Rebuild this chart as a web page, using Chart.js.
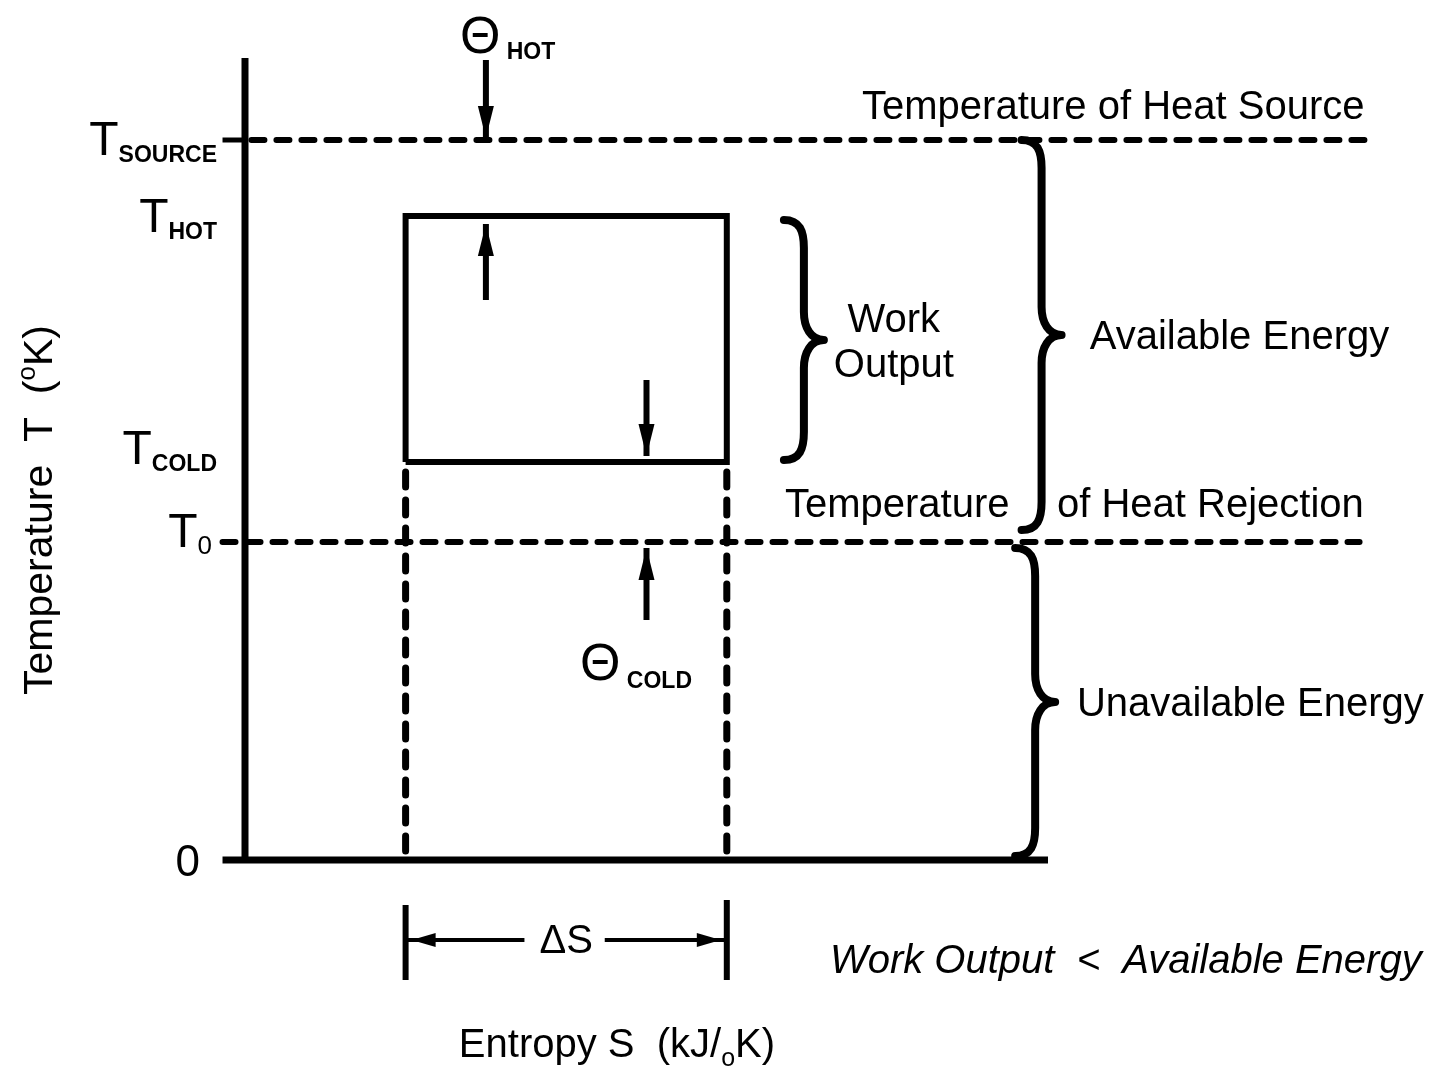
<!DOCTYPE html>
<html>
<head>
<meta charset="utf-8">
<style>
  html, body { margin: 0; padding: 0; background: #fff; }
  #wrap { width: 1437px; height: 1066px; }
</style>
<script src="https://cdn.jsdelivr.net/npm/chart.js@4.4.1/dist/chart.umd.min.js"></script>
</head>
<body>
<div id="wrap"><canvas id="ts" width="1437" height="1066"></canvas></div>
<script>
// --- diagram values (T in K, S in arbitrary entropy units) ---
const levelKeys  = ['SOURCE', 'HOT', 'COLD', '0'];
const levelTemps = [720, 644, 398, 318];      // T_source, T_hot, T_cold, T_0
const cycleS     = [1.0, 2.0];                // S1, S2 of the cycle
const axisS      = [0.5, 3.0];
const axisT      = [0, 800];
const levelLineS = [0.43, 3.99];              // extent of the dashed level lines

// arrows: theta_hot, heat in, heat out, theta_cold
const arrowS    = [1.25, 1.25, 1.75, 1.75];
const arrowFrom = [800, 560, 480, 240];
const arrowTo   = [722, 636, 404, 312];

// braces: work output, available energy, unavailable energy
const braceS     = [2.24, 2.98, 2.96];
const braceTop   = [640, 720, 312];
const braceBot   = [400, 330, 4];
const braceLabel = [['Work', 'Output'], ['Available Energy'], ['Unavailable Energy']];
const braceTextS = [2.52, 3.13, 3.09];

// delta S marker below the axis
const deltaT = [-45, -120, -80];              // bar top, bar bottom, arrow level

const FONT = '"Liberation Sans", Arial, Helvetica, sans-serif';
const BLACK = '#000';

function seg(pts, width, dash) {
  return {
    data: pts, showLine: true, pointRadius: 0, borderColor: BLACK, borderWidth: width,
    borderDash: dash || [], borderCapStyle: dash ? 'round' : 'butt', borderJoinStyle: 'miter',
    clip: false, tension: 0
  };
}

const [S1, S2] = cycleS;
const [tSrc, tHot, tCold, t0] = levelTemps;

const datasets = [
  seg([{x: axisS[0], y: axisT[0] - 2}, {x: axisS[0], y: axisT[1] + 2}], 7),
  seg([{x: levelLineS[0], y: 0}, {x: axisS[1], y: 0}], 7),
  seg([{x: levelLineS[0], y: tSrc}, {x: axisS[0], y: tSrc}], 5),
  seg([{x: axisS[0] + 0.02, y: tSrc}, {x: levelLineS[1] + 0.01, y: tSrc}], 6, [13, 12]),
  seg([{x: levelLineS[0], y: t0}, {x: levelLineS[1] - 0.02, y: t0}], 6, [13, 12]),
  seg([{x: S1, y: tCold}, {x: S2, y: tCold}, {x: S2, y: tHot}, {x: S1, y: tHot}, {x: S1, y: tCold}], 6),
  seg([{x: S1, y: tCold - 10}, {x: S1, y: 3}], 7, [15, 13]),
  seg([{x: S2, y: tCold - 10}, {x: S2, y: 3}], 7, [15, 13]),
  seg([{x: S1, y: deltaT[0]}, {x: S1, y: deltaT[1]}], 6),
  seg([{x: S2, y: deltaT[0] + 5}, {x: S2, y: deltaT[1]}], 6),
  seg([{x: S1, y: deltaT[2]}, {x: S1 + 0.37, y: deltaT[2]}], 4),
  seg([{x: S2 - 0.38, y: deltaT[2]}, {x: S2, y: deltaT[2]}], 4)
];
arrowS.forEach((s, i) => datasets.push(seg([{x: s, y: arrowFrom[i]}, {x: s, y: arrowTo[i]}], 6)));

function head(ctx, tx, ty, dx, dy, len, half) {
  const n = Math.hypot(dx, dy); dx /= n; dy /= n;
  const bx = tx - dx * len, by = ty - dy * len;
  ctx.beginPath();
  ctx.moveTo(tx, ty);
  ctx.lineTo(bx - dy * half, by + dx * half);
  ctx.lineTo(bx + dy * half, by - dx * half);
  ctx.closePath();
  ctx.fill();
}

function brace(ctx, xs, top, bot, w, r) {
  const pm = (top + bot) / 2;
  ctx.beginPath();
  ctx.moveTo(xs - w, top);
  ctx.bezierCurveTo(xs - w * 0.2, top, xs, top + r * 0.4, xs, top + r);
  ctx.lineTo(xs, pm - r);
  ctx.bezierCurveTo(xs, pm - r * 0.45, xs + w * 0.35, pm, xs + w, pm);
  ctx.bezierCurveTo(xs + w * 0.35, pm, xs, pm + r * 0.45, xs, pm + r);
  ctx.lineTo(xs, bot - r);
  ctx.bezierCurveTo(xs, bot - r * 0.4, xs - w * 0.2, bot, xs - w, bot);
  ctx.stroke();
}

// text runs: [text, font, dy] drawn one after another
function runs(ctx, parts, x, y, align) {
  let total = 0;
  parts.forEach(p => { ctx.font = p[1]; p.w = ctx.measureText(p[0]).width; total += p.w; });
  let cx = align === 'right' ? x - total : align === 'center' ? x - total / 2 : x;
  parts.forEach(p => { ctx.font = p[1]; ctx.fillText(p[0], cx, y + (p[2] || 0)); cx += p.w; });
}

const annotate = {
  id: 'annotate',
  afterDatasetsDraw(chart) {
    const {ctx, scales: {x, y}} = chart;
    ctx.save();
    ctx.fillStyle = BLACK; ctx.strokeStyle = BLACK;
    ctx.textAlign = 'left'; ctx.textBaseline = 'alphabetic';

    // arrow heads
    arrowS.forEach((s, i) => {
      const px = x.getPixelForValue(s), py = y.getPixelForValue(arrowTo[i]);
      head(ctx, px, py, 0, y.getPixelForValue(arrowTo[i]) - y.getPixelForValue(arrowFrom[i]), 32, 8);
    });
    const dy = y.getPixelForValue(deltaT[2]);
    head(ctx, x.getPixelForValue(S1) + 6, dy, -1, 0, 24, 7);
    head(ctx, x.getPixelForValue(S2) - 6, dy, 1, 0, 24, 7);

    // braces
    ctx.lineWidth = 8; ctx.lineCap = 'round'; ctx.lineJoin = 'round';
    braceS.forEach((s, i) => {
      brace(ctx, x.getPixelForValue(s), y.getPixelForValue(braceTop[i]), y.getPixelForValue(braceBot[i]), 20, 28);
    });

    const big = '40px ' + FONT, sub = 'bold 23px ' + FONT;

    // brace labels
    ctx.font = big;
    braceLabel.forEach((lines, i) => {
      const mid = y.getPixelForValue((braceTop[i] + braceBot[i]) / 2);
      const px = x.getPixelForValue(braceTextS[i]);
      ctx.textAlign = lines.length > 1 ? 'center' : 'left';
      ctx.textBaseline = 'middle';
      lines.forEach((ln, k) => ctx.fillText(ln, px, mid + 3 + (k - (lines.length - 1) / 2) * 45));
    });

    // level captions
    ctx.textAlign = 'left'; ctx.textBaseline = 'middle';
    ctx.fillText('Temperature of Heat Source', x.getPixelForValue(2.421), y.getPixelForValue(tSrc) - 32);
    ctx.fillText('Temperature', x.getPixelForValue(2.181), y.getPixelForValue(t0) - 36);
    ctx.fillText('of Heat Rejection', x.getPixelForValue(3.028), y.getPixelForValue(t0) - 36);
    ctx.font = 'italic 40px ' + FONT;
    ctx.fillText('Work Output  <  Available Energy', x.getPixelForValue(2.321), dy + 22);

    // delta S
    ctx.font = big; ctx.textAlign = 'center';
    ctx.fillText('\u0394S', x.getPixelForValue((S1 + S2) / 2), dy + 2);

    // y tick labels
    ctx.textAlign = 'left'; ctx.textBaseline = 'alphabetic';
    const axisPx = x.getPixelForValue(axisS[0]);
    const tickDy = [15, 16, 2, 5];
    levelKeys.forEach((k, i) => {
      const base = y.getPixelForValue(levelTemps[i]) + tickDy[i];
      const subFont = k === '0' ? '26px ' + FONT : sub;
      runs(ctx, [['T', '48px ' + FONT, 0], [k, subFont, 7]], axisPx - (k === '0' ? 33 : 28), base, 'right');
    });
    runs(ctx, [['0', '44px ' + FONT, 0]], axisPx - 45, y.getPixelForValue(0) + 16, 'right');

    // theta labels
    runs(ctx, [['\u0398', '52px ' + FONT, 0], [' HOT', sub, 6]], x.getPixelForValue(1.169), y.getPixelForValue(axisT[1]) - 7, 'left');
    runs(ctx, [['\u0398', '52px ' + FONT, 0], [' COLD', sub, 8]], x.getPixelForValue(1.543), y.getPixelForValue(240) + 60, 'left');

    // axis titles
    runs(ctx, [['Entropy S  (kJ/', big, 0], ['o', '25px ' + FONT, 9], ['K)', big, 0]], x.getPixelForValue(1.658), y.getPixelForValue(0) + 197, 'center');
    ctx.save();
    ctx.translate(x.getPixelForValue(-0.144) + 14, y.getPixelForValue(350));
    ctx.rotate(-Math.PI / 2);
    runs(ctx, [['Temperature  T  (', '41px ' + FONT, 0], ['o', '26px ' + FONT, -17], ['K)', '41px ' + FONT, 0]], 0, 0, 'center');
    ctx.restore();

    ctx.restore();
  }
};

new Chart(document.getElementById('ts'), {
  type: 'scatter',
  data: { datasets },
  options: {
    responsive: false,
    devicePixelRatio: 1,
    animation: false,
    layout: { padding: { left: 245, right: 389, top: 60, bottom: 206 } },
    plugins: { legend: { display: false }, tooltip: { enabled: false } },
    scales: {
      x: { type: 'linear', min: axisS[0], max: axisS[1], display: false },
      y: { type: 'linear', min: axisT[0], max: axisT[1], display: false }
    }
  },
  plugins: [annotate]
});
</script>
</body>
</html>
